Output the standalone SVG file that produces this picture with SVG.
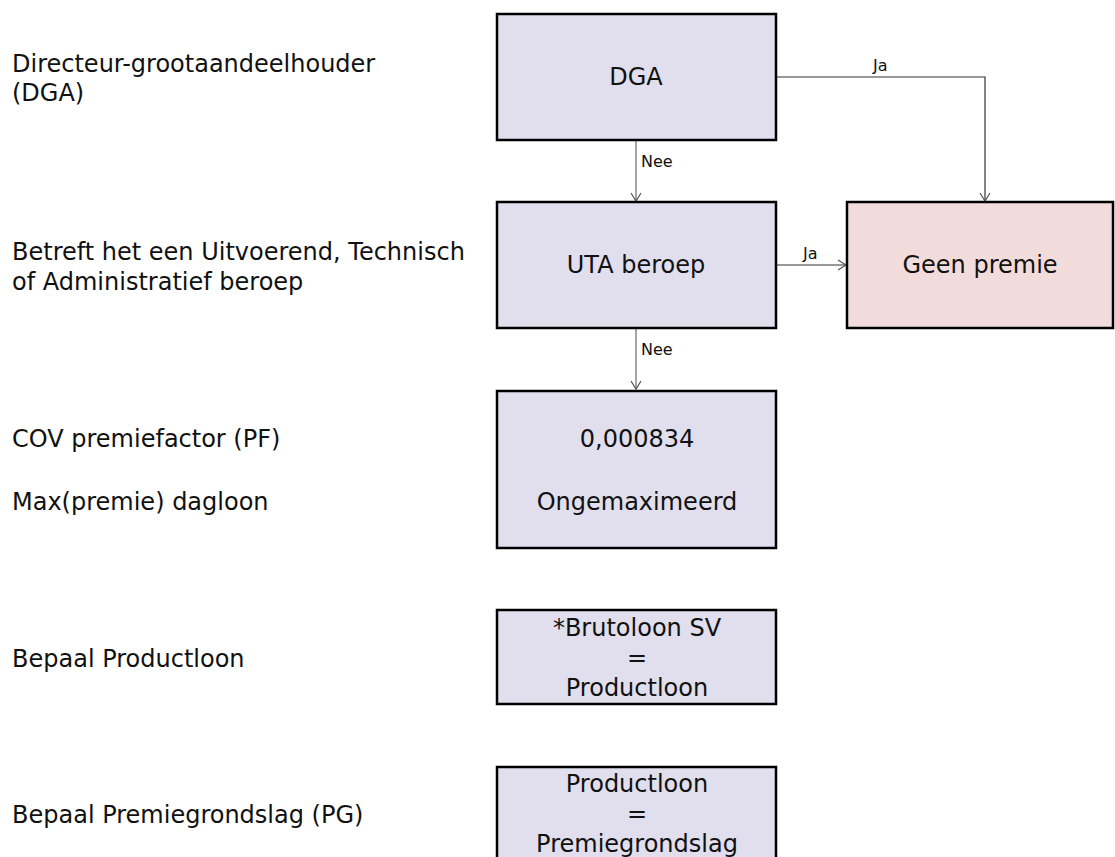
<svg xmlns="http://www.w3.org/2000/svg" width="1115" height="857" viewBox="0 0 1115 857">
<style>
  text { font-family: "DejaVu Sans", Verdana, sans-serif; fill: #111; }
  .lbl { font-size: 24px; }
  .box { fill: #e1dfed; stroke: #000; stroke-width: 2.5; }
  .end { fill: #f2dcdb; stroke: #000; stroke-width: 2.5; }
  .bt { font-size: 24px; text-anchor: middle; }
  .cl { font-size: 16px; }
  .edge { fill: none; stroke: #6a6a6a; stroke-width: 1.2; }
  .edge.dark { stroke: #333; }
</style>
<defs>
  <marker id="arr" markerUnits="userSpaceOnUse" markerWidth="14" markerHeight="14" refX="9" refY="6" orient="auto">
    <path d="M1,1 L9,6 L1,11" fill="none" stroke="#555" stroke-width="1.2"/>
  </marker>
</defs>
<rect width="1115" height="857" fill="#fff"/>

<g id="left-labels">
  <text class="lbl" x="12" y="72">Directeur-grootaandeelhouder</text>
  <text class="lbl" x="12" y="101">(DGA)</text>
  <text class="lbl" x="12" y="260">Betreft het een Uitvoerend, Technisch</text>
  <text class="lbl" x="12" y="290">of Administratief beroep</text>
  <text class="lbl" x="12" y="447">COV premiefactor (PF)</text>
  <text class="lbl" x="12" y="510">Max(premie) dagloon</text>
  <text class="lbl" x="12" y="667">Bepaal Productloon</text>
  <text class="lbl" x="12" y="823">Bepaal Premiegrondslag (PG)</text>
</g>

<g id="connectors">
  <path class="edge" d="M636,140 V201" marker-end="url(#arr)"/>
  <text class="cl" x="641" y="167">Nee</text>
  <path class="edge" d="M636,328 V389" marker-end="url(#arr)"/>
  <text class="cl" x="641" y="355">Nee</text>
  <path class="edge dark" d="M776,77 H985 V201" marker-end="url(#arr)"/>
  <text class="cl" x="873" y="71">Ja</text>
  <path class="edge dark" d="M776,265 H846" marker-end="url(#arr)"/>
  <text class="cl" x="803" y="259">Ja</text>
</g>

<g id="node-dga">
  <rect class="box" x="497" y="14" width="279" height="126"/>
  <text class="bt" x="636" y="85">DGA</text>
</g>
<g id="node-uta">
  <rect class="box" x="497" y="202" width="279" height="126"/>
  <text class="bt" x="636" y="273">UTA beroep</text>
</g>
<g id="node-geen-premie">
  <rect class="end" x="847" y="202" width="266" height="126"/>
  <text class="bt" x="980" y="273">Geen premie</text>
</g>
<g id="node-cov">
  <rect class="box" x="497" y="391" width="279" height="157"/>
  <text class="bt" x="637" y="447">0,000834</text>
  <text class="bt" x="637" y="510">Ongemaximeerd</text>
</g>
<g id="node-productloon">
  <rect class="box" x="497" y="610" width="279" height="94"/>
  <text class="bt" x="637" y="636">*Brutoloon SV</text>
  <text class="bt" x="637" y="666">=</text>
  <text class="bt" x="637" y="696">Productloon</text>
</g>
<g id="node-premiegrondslag">
  <rect class="box" x="497" y="767" width="279" height="110"/>
  <text class="bt" x="637" y="792">Productloon</text>
  <text class="bt" x="637" y="822">=</text>
  <text class="bt" x="637" y="852">Premiegrondslag</text>
</g>
</svg>
